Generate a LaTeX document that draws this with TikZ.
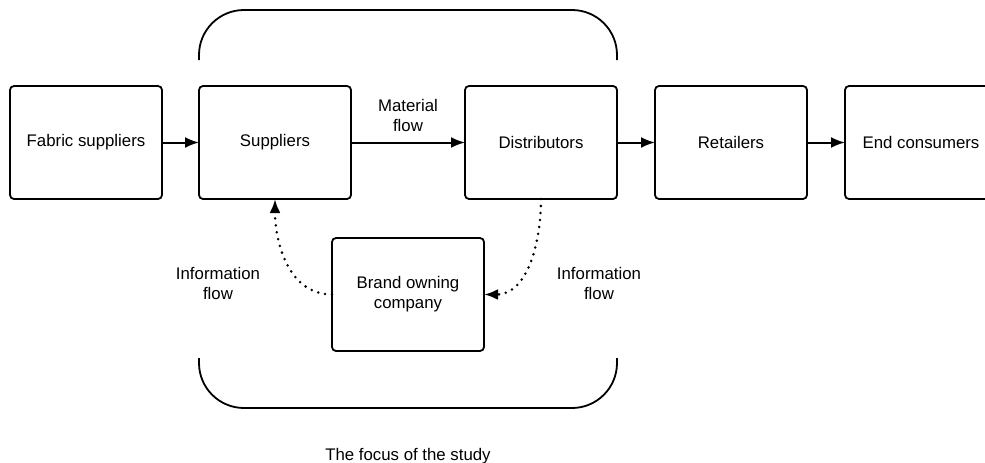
\documentclass[tikz,border=0pt]{standalone}
\usepackage{fontspec}
\setmainfont{Liberation Sans}
\usetikzlibrary{positioning,arrows.meta,calc}
\tikzset{
  stage/.style={rectangle, rounded corners=4pt, draw=black, line width=1.8pt, minimum width=152pt, minimum height=113pt, align=center, outer sep=0pt, font=\fontsize{16.8}{20}\selectfont},
  connect/.style={-{Latex[length=14pt,width=11pt]}, line width=2pt},
  infolink/.style={connect, line width=2.8pt, line cap=round, dash pattern=on 0pt off 7pt},
  flowtext/.style={align=center, font=\fontsize{16.8}{20}\selectfont},
  bracket/.style={line width=1.8pt, rounded corners=45pt}
}

\begin{document}
\begin{tikzpicture}[x=1pt,y=-1pt]
  \useasboundingbox (0,0) rectangle (985,463);
  \node[stage] (Fabric) at (86,142.5) {Fabric suppliers};
  \node[stage] (Suppliers) [right=37pt of Fabric] {Suppliers};
  \node[stage] (Distributors) [right=114pt of Suppliers] {Distributors};
  \node[stage] (Retailers) [right=38pt of Distributors] {Retailers};
  \node[stage] (Consumers) [right=38pt of Retailers] {End consumers};
  \coordinate (Mid) at ($(Suppliers.south)!0.5!(Distributors.south)$);
  \node[stage] (Brand) [below=39pt of Mid] {Brand owning\\company};

  \path (Fabric) edge [connect] (Suppliers);
  \path (Suppliers) edge [connect] (Distributors);
  \path (Distributors) edge [connect] (Retailers);
  \path (Retailers) edge [connect] (Consumers);

  % information goes back through the brand owner
  \path (Brand.west) edge [infolink, out=180, in=-90] (Suppliers.south);
  \path (Distributors.south) edge [infolink, out=-90, in=0] (Brand.east);

  \node[flowtext] (Material) [above=7pt of $(Suppliers.east)!0.5!(Distributors.west)$] {Material\\flow};
  \node[flowtext] (InfoLeft) at ($(Brand.west)+(-114,-11)$) {Information\\flow};
  \node[flowtext] (InfoRight) at ($(Brand.east)+(115,-11)$) {Information\\flow};

  % the two brackets round the focus
  \draw[bracket] ($(Suppliers.north west)+(0,-26)$) -- ($(Suppliers.north west)+(0,-76)$)
    -- ($(Distributors.north east)+(0,-76)$) -- ($(Distributors.north east)+(0,-26)$);
  \draw[bracket] ($(Suppliers.west |- Brand.south)+(0,7)$) -- ($(Suppliers.west |- Brand.south)+(0,57)$)
    -- ($(Distributors.east |- Brand.south)+(0,57)$) -- ($(Distributors.east |- Brand.south)+(0,7)$);

  \node[flowtext] (Focus) at ($(Mid |- Brand.south)+(0,105)$) {The focus of the study};
\end{tikzpicture}
\end{document}
